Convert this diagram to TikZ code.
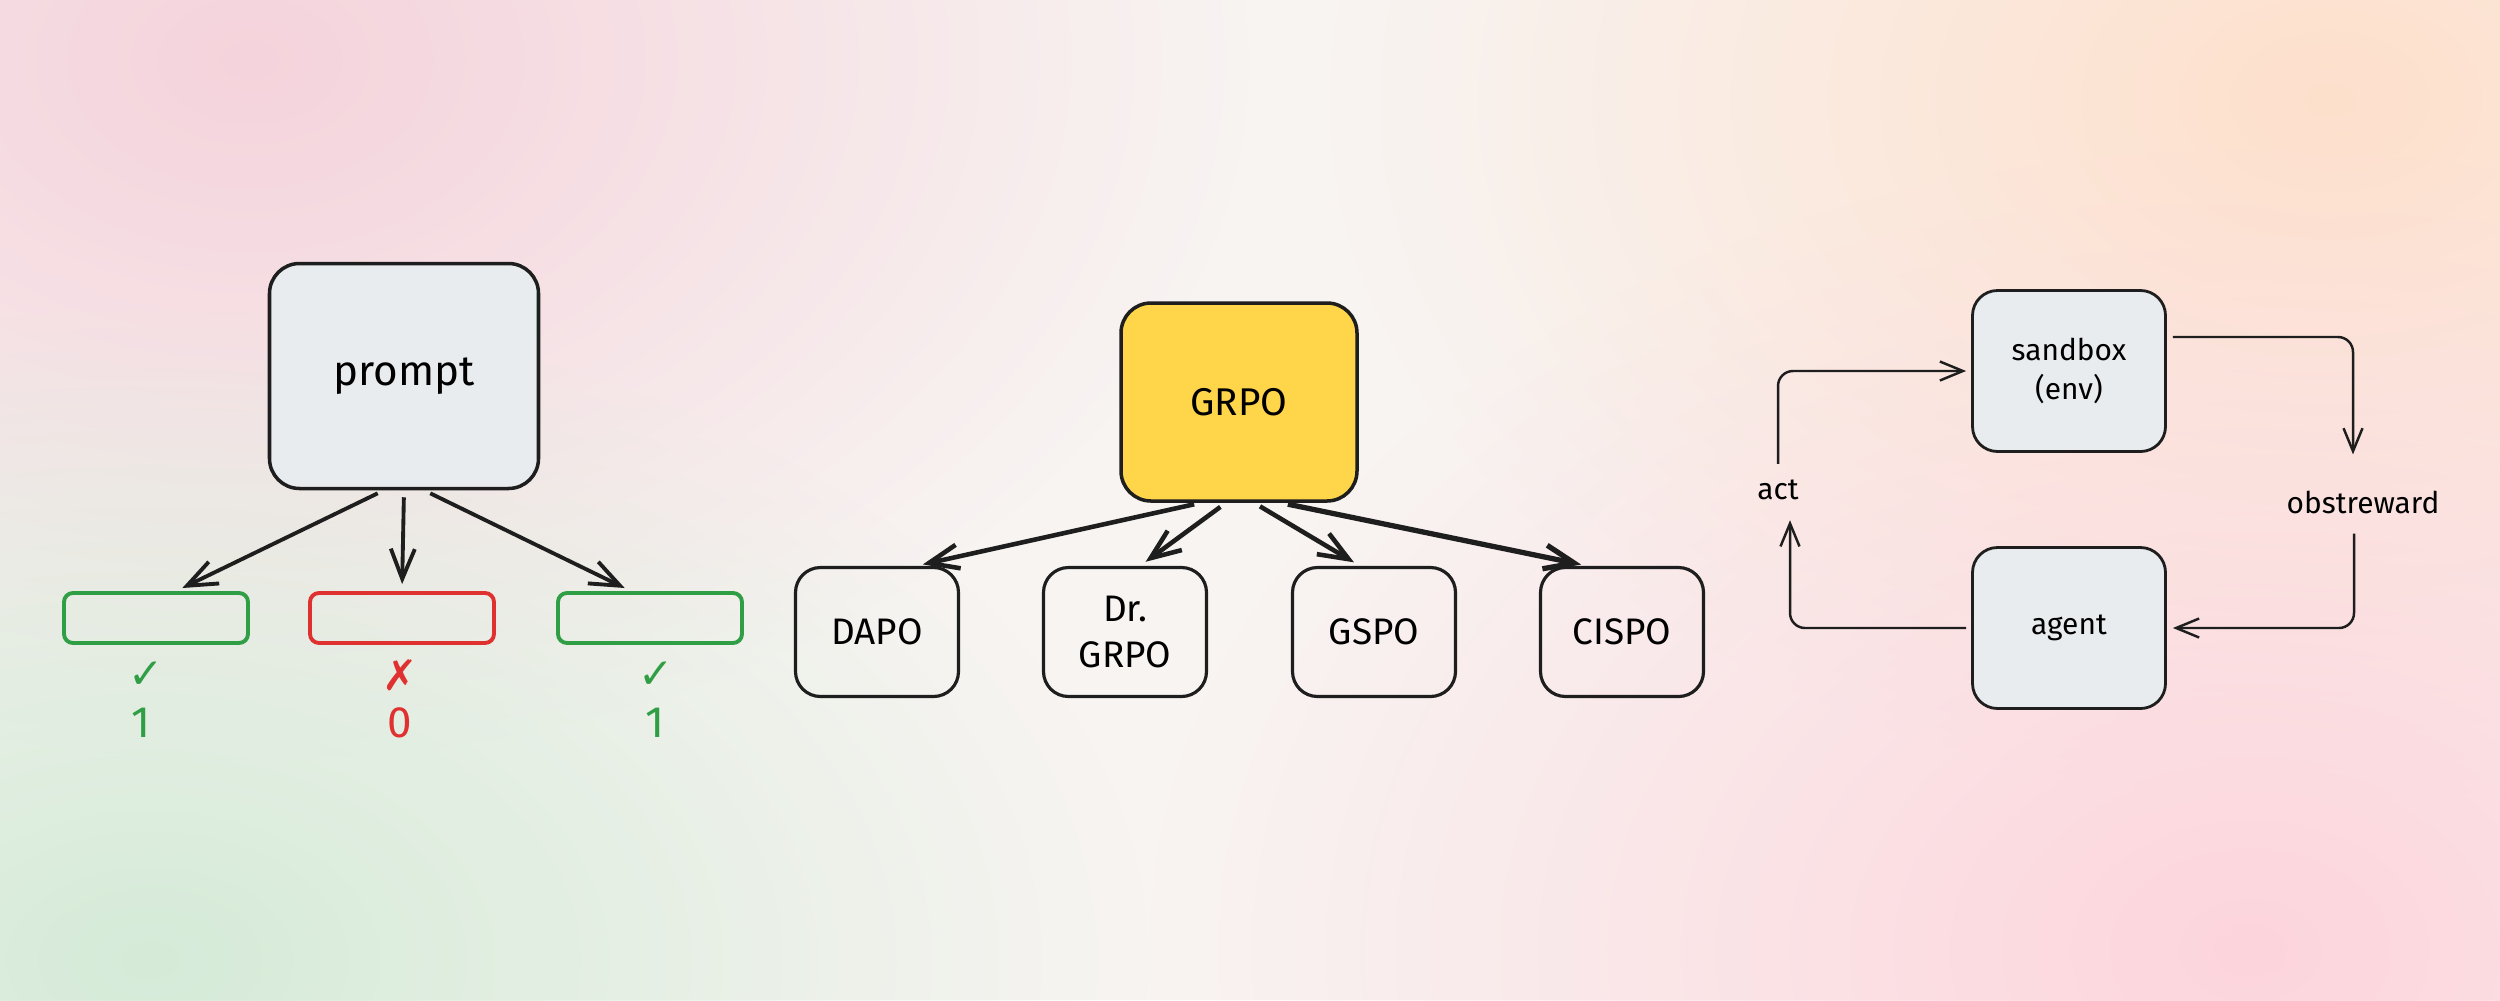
\documentclass[tikz,border=0pt]{standalone}
\usepackage{fontspec}
\setmainfont{Fira Sans}
\newfontfamily\markfont{DejaVu Sans}
\usetikzlibrary{arrows.meta,positioning,fadings}

\definecolor{ink}{HTML}{1E1E1E}
\definecolor{boxgrey}{HTML}{E9ECEF}
\definecolor{gold}{HTML}{FFD54A}
\definecolor{okgreen}{HTML}{2F9E44}
\definecolor{badred}{HTML}{E03131}
\definecolor{bgbase}{HTML}{F8F4F2}
\definecolor{bgpink}{HTML}{F5D3DC}
\definecolor{bgpeach}{HTML}{FEE0CC}
\definecolor{bggreen}{HTML}{D5EBD8}
\definecolor{bgrose}{HTML}{FDD5DC}

\tikzfading[name=glow, inner color=transparent!0, outer color=transparent!100]

\begin{document}
\begin{tikzpicture}[x=0.1mm,y=-0.1mm, >={Straight Barb[length=3mm,width=2.4mm]},
    card/.style={draw=ink, line width=1pt, fill=boxgrey, rounded corners=3mm,
        inner sep=0pt, align=center},
    algo/.style={draw=ink, line width=0.9pt, rounded corners=2.5mm,
        minimum width=16.3mm, minimum height=12.9mm, inner sep=0pt, align=center,
        font=\fontsize{10.5}{13}\selectfont},
    sample/.style={line width=1.1pt, rounded corners=0.9mm,
        minimum width=18.4mm, minimum height=5mm},
    verdict/.style={font=\markfont\bfseries\fontsize{12}{12}\selectfont},
    score/.style={font=\fontsize{12.5}{12}\selectfont},
    flow/.style={->, draw=ink, line width=1.1pt, shorten <=0.7mm, shorten >=0.7mm},
    envflow/.style={-{Straight Barb[length=2.3mm,width=1.9mm]}, draw=ink,
        line width=0.7pt, rounded corners=1.5mm},
    tag/.style={font=\fontsize{8.5}{10}\selectfont, inner sep=1pt}]

    \useasboundingbox (0,0) rectangle (2500,1000);
    % background
    \begin{scope}
        \clip (0,0) rectangle (2500,1000);
        \fill[bgbase] (0,0) rectangle (2500,1000);
        \fill[bgpink, path fading=glow] (250,60) ellipse (1000 and 700);
        \fill[bgpeach, path fading=glow] (2330,100) ellipse (1000 and 700);
        \fill[bggreen, path fading=glow] (150,960) ellipse (1000 and 650);
        \fill[bgrose, path fading=glow] (2250,950) ellipse (1100 and 800);
    \end{scope}

    % prompt and sampled answers
    \node[card, minimum width=26.9mm, minimum height=22.5mm,
        font=\fontsize{12}{14}\selectfont] (prompt) at (404,376) {prompt};
    \node[sample, draw=okgreen] (ok1) at (156,618) {};
    \node[sample, draw=badred] (bad) at (402,618) {};
    \node[sample, draw=okgreen] (ok2) at (650,618) {};
    \draw[flow] ([xshift=-2mm]prompt.south) -- ([xshift=2mm]ok1.north);
    \draw[flow] (prompt.south) -- (bad.north);
    \draw[flow] ([xshift=2mm]prompt.south) -- ([xshift=-1.9mm]ok2.north);
    \node[verdict, text=okgreen] (chk1) at (146,675) {✓};
    \node[verdict, text=badred] (chk2) at (400,675) {✗};
    \node[verdict, text=okgreen] (chk3) at (656,675) {✓};
    \node[score, text=okgreen] (num1) at (141,723) {1};
    \node[score, text=badred] (num2) at (400,723) {0};
    \node[score, text=okgreen] (num3) at (655,723) {1};

    % GRPO family
    \node[card, fill=gold, minimum width=23.6mm, minimum height=19.8mm,
        font=\fontsize{11}{13}\selectfont] (grpo) at (1239,402) {GRPO};
    \node[algo] (dapo) at (877,632) {DAPO};
    \node[algo] (drgrpo) at (1125,632) {Dr.\\GRPO};
    \node[algo] (gspo) at (1374,632) {GSPO};
    \node[algo] (cispo) at (1622,632) {CISPO};
    \draw[flow, line width=1.3pt] ([xshift=-3.8mm]grpo.south) -- ([xshift=3.9mm]dapo.north);
    \draw[flow, line width=1.3pt] ([xshift=-1.3mm]grpo.south) -- ([xshift=1.5mm]drgrpo.north);
    \draw[flow, line width=1.3pt] ([xshift=1.5mm]grpo.south) -- ([xshift=-1.4mm]gspo.north);
    \draw[flow, line width=1.5pt] ([xshift=4.2mm]grpo.south) -- ([xshift=-3.4mm]cispo.north);

    % environment loop
    \node[card, line width=0.8pt, rounded corners=2.5mm, minimum width=19.3mm,
        minimum height=16.1mm, font=\fontsize{8.5}{11}\selectfont]
        (sandbox) at (2069,371) {sandbox\\(env)};
    \node[card, line width=0.8pt, rounded corners=2.5mm, minimum width=19.3mm,
        minimum height=16.1mm, font=\fontsize{8.5}{11}\selectfont]
        (agent) at (2069,628) {agent};
    \node[tag] (act) at (1778,490) {act};
    \node[tag] (obs) at (2363,502) {obstreward};
    \draw[envflow] ([yshift=1.2mm]act.north) |- ([xshift=-0.5mm]sandbox.west);
    \draw[envflow] ([xshift=0.6mm,yshift=3.4mm]sandbox.east) -| ([xshift=-1mm,yshift=3.2mm]obs.north);
    \draw[envflow] ([xshift=-0.9mm,yshift=-1.6mm]obs.south) |- ([xshift=0.6mm]agent.east);
    \draw[envflow] ([xshift=-0.5mm]agent.west) -| ([xshift=1.2mm,yshift=-1.6mm]act.south);
\end{tikzpicture}
\end{document}
